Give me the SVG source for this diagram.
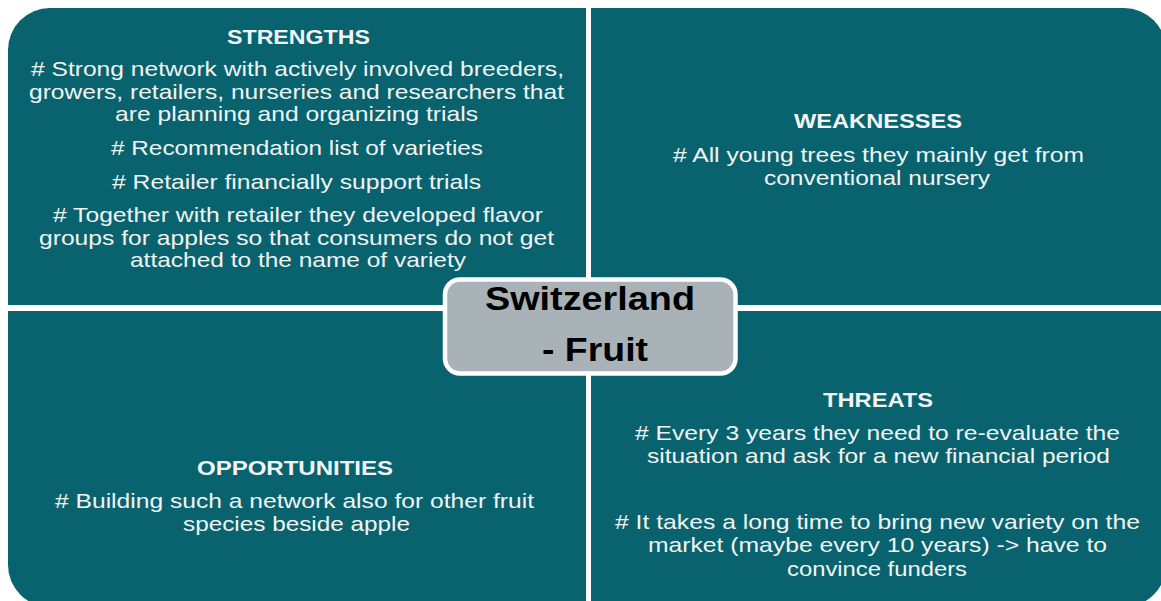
<svg xmlns="http://www.w3.org/2000/svg" width="1161" height="601" viewBox="0 0 1161 601">
  <style>
    .quad { fill: #08636e; }
    .title { font-family: "Liberation Sans", Arial, sans-serif; font-size: 21px; font-weight: bold; fill: #f2f4f4; text-anchor: middle; }
    .body { font-family: "Liberation Sans", Arial, sans-serif; font-size: 21px; fill: #f2f4f4; text-anchor: middle; }
    .center-box { fill: #a9b3b7; stroke: #ffffff; stroke-width: 4.5; }
    .center-text { font-family: "Liberation Sans", Arial, sans-serif; font-size: 34px; font-weight: bold; fill: #000000; text-anchor: middle; }
  </style>
  <rect width="1161" height="601" fill="#ffffff"/>

  <g id="strengths">
    <path class="quad" d="M8,50 A42,42 0 0 1 50,8 H586 V305 H8 Z"/>
    <text class="title" x="298.5" y="44" textLength="143" lengthAdjust="spacingAndGlyphs">STRENGTHS</text>
    <text class="body" x="297.5" y="76" textLength="533" lengthAdjust="spacingAndGlyphs"># Strong network with actively involved breeders,</text>
    <text class="body" x="296.5" y="98.5" textLength="535" lengthAdjust="spacingAndGlyphs">growers, retailers, nurseries and researchers that</text>
    <text class="body" x="296.5" y="121" textLength="363" lengthAdjust="spacingAndGlyphs">are planning and organizing trials</text>
    <text class="body" x="297" y="155" textLength="372" lengthAdjust="spacingAndGlyphs"># Recommendation list of varieties</text>
    <text class="body" x="296.5" y="189" textLength="369" lengthAdjust="spacingAndGlyphs"># Retailer financially support trials</text>
    <text class="body" x="298" y="222" textLength="490" lengthAdjust="spacingAndGlyphs"># Together with retailer they developed flavor</text>
    <text class="body" x="296.5" y="245" textLength="515" lengthAdjust="spacingAndGlyphs">groups for apples so that consumers do not get</text>
    <text class="body" x="298" y="267" textLength="336" lengthAdjust="spacingAndGlyphs">attached to the name of variety</text>
  </g>

  <g id="weaknesses">
    <path class="quad" d="M591,8 H1124 A42,42 0 0 1 1166,50 V305 H591 Z"/>
    <text class="title" x="878" y="128" textLength="168" lengthAdjust="spacingAndGlyphs">WEAKNESSES</text>
    <text class="body" x="878.5" y="162" textLength="411" lengthAdjust="spacingAndGlyphs"># All young trees they mainly get from</text>
    <text class="body" x="877" y="185" textLength="226" lengthAdjust="spacingAndGlyphs">conventional nursery</text>
  </g>

  <g id="opportunities">
    <path class="quad" d="M8,311 H586 V607 H50 A42,42 0 0 1 8,565 Z"/>
    <text class="title" x="295" y="475" textLength="196" lengthAdjust="spacingAndGlyphs">OPPORTUNITIES</text>
    <text class="body" x="294.5" y="508" textLength="479" lengthAdjust="spacingAndGlyphs"># Building such a network also for other fruit</text>
    <text class="body" x="296.5" y="531" textLength="227" lengthAdjust="spacingAndGlyphs">species beside apple</text>
  </g>

  <g id="threats">
    <path class="quad" d="M591,311 H1166 V565 A42,42 0 0 1 1124,607 H591 Z"/>
    <text class="title" x="878" y="407" textLength="110" lengthAdjust="spacingAndGlyphs">THREATS</text>
    <text class="body" x="877.5" y="440" textLength="485" lengthAdjust="spacingAndGlyphs"># Every 3 years they need to re-evaluate the</text>
    <text class="body" x="878.5" y="463" textLength="463" lengthAdjust="spacingAndGlyphs">situation and ask for a new financial period</text>
    <text class="body" x="877.5" y="529" textLength="525" lengthAdjust="spacingAndGlyphs"># It takes a long time to bring new variety on the</text>
    <text class="body" x="877.5" y="552" textLength="459" lengthAdjust="spacingAndGlyphs">market (maybe every 10 years) -&gt; have to</text>
    <text class="body" x="877" y="576" textLength="180" lengthAdjust="spacingAndGlyphs">convince funders</text>
  </g>

  <g id="center">
    <rect class="center-box" x="445" y="279.5" width="290.5" height="94" rx="15" ry="15"/>
    <text class="center-text" x="590" y="310" textLength="210" lengthAdjust="spacingAndGlyphs">Switzerland</text>
    <text class="center-text" x="595" y="361" textLength="106" lengthAdjust="spacingAndGlyphs">- Fruit</text>
  </g>
</svg>
